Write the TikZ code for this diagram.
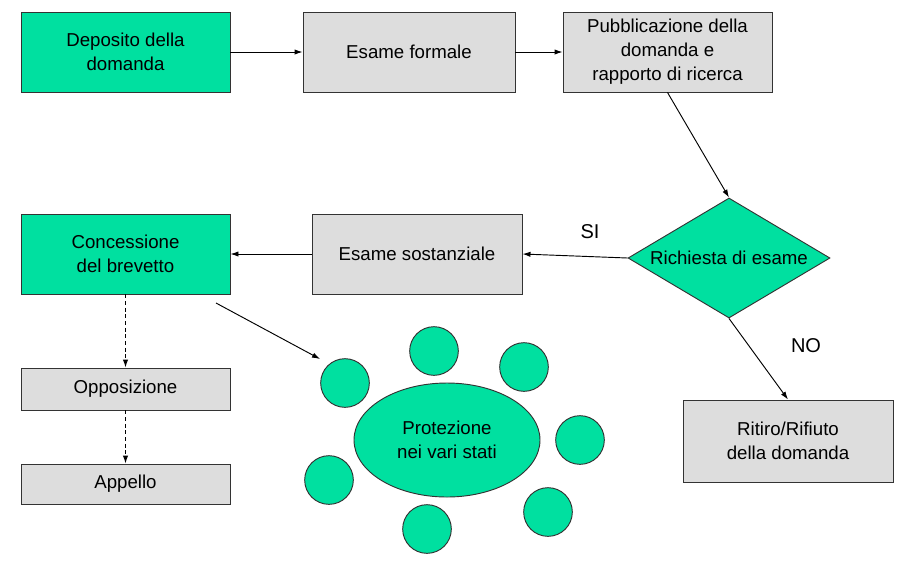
\documentclass[tikz,border=0pt]{standalone}
\usepackage{fontspec}
\setmainfont{Liberation Sans}
\usetikzlibrary{shapes.geometric, arrows.meta}
\definecolor{brevgreen}{RGB}{0,224,160}
\definecolor{boxgray}{RGB}{221,221,221}

\tikzset{
  box/.style={rectangle, draw=black!80, line width=0.7pt, align=center, inner sep=2pt,
    minimum width=156.75pt, minimum height=60pt},
  greenbox/.style={box, fill=brevgreen},
  graybox/.style={box, fill=boxgray},
  askbox/.style={diamond, aspect=1.68, draw=black!80, line width=0.7pt, fill=brevgreen, inner sep=0pt,
    minimum width=151.5pt, minimum height=90pt},
  statebubble/.style={circle, draw=black!80, line width=0.7pt, fill=brevgreen, minimum size=36.5pt},
  dashedline/.style={dashed, dash pattern=on 3pt off 2pt}
}

\begin{document}
\begin{tikzpicture}[x=0.75pt, y=-0.75pt, ->, >={Latex[length=6pt, width=4pt]}, line width=0.7pt,
    font=\fontsize{14}{18}\selectfont]
      \useasboundingbox (0,0) rectangle (913,562);
      % top row
      \node[greenbox] (depo) at (125.5,52) {Deposito della\\domanda};
      \node[graybox, minimum width=159pt] (formale) at (409,52) {Esame formale};
      \node[graybox] (pubbl) at (667.5,52) {Pubblicazione della\\domanda e\\rapporto di ricerca};
      % middle row
      \node[askbox] (ask) at (729,258) {Richiesta di esame};
      \node[graybox, minimum width=157.5pt] (sostanz) at (417,254) {Esame sostanziale};
      \node[greenbox] (conc) at (125.5,254) {Concessione\\del brevetto};
      % bottom
      \node[graybox, minimum height=31.5pt] (oppo) at (125.5,389) {Opposizione};
      \node[graybox, minimum height=30pt] (appe) at (125.5,484) {Appello};
      \node[graybox, minimum width=157.5pt, minimum height=61.5pt] (ritiro) at (788,441) {Ritiro/Rifiuto\\della domanda};
      % states
      \node[ellipse, draw=black!80, fill=brevgreen, align=center, minimum width=139.5pt,
        minimum height=85.5pt] (prot) at (447,440) {Protezione\\nei vari stati};
      \foreach \name/\pos in {s1/{(345,383)}, s2/{(434,351)}, s3/{(524,367)}, s4/{(580,440)},
          s5/{(548,512)}, s6/{(427,529)}, s7/{(329,480)}}
        \node[statebubble] (\name) at \pos {};
      % labels
      \node[font=\fontsize{15}{18}\selectfont] (si) at (590,232) {SI};
      \node[font=\fontsize{15}{18}\selectfont] (no) at (806,346) {NO};
      \coordinate (cfrom) at (216,303);
      \coordinate (cto) at (320,359);
      \path (depo) edge (formale)
            (formale) edge (pubbl)
            (pubbl.south) edge (ask.north)
            (ask.west) edge (sostanz.east)
            (sostanz) edge (conc)
            (ask.south) edge (ritiro.north)
            (conc) edge[dashedline] (oppo)
            (oppo) edge[dashedline] (appe)
            (cfrom) edge (cto);
\end{tikzpicture}
\end{document}
